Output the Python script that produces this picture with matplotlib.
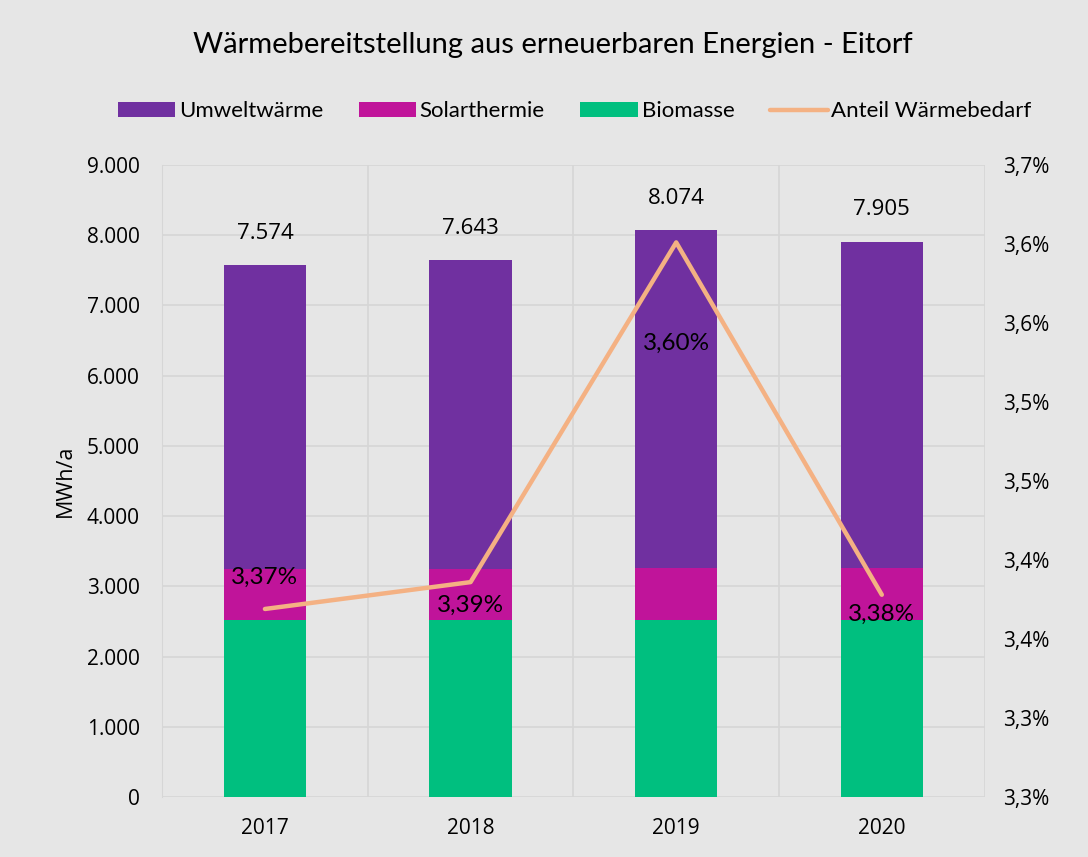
import matplotlib.pyplot as plt
import numpy as np
from matplotlib.ticker import FuncFormatter, MultipleLocator

# data
jahre = ["2017", "2018", "2019", "2020"]
biomasse = [2520, 2520, 2520, 2520]
solarthermie = [725, 730, 735, 745]
umweltwaerme = [4329, 4393, 4819, 4640]
anteil = [3.369, 3.386, 3.601, 3.378]

# colours
c_umwelt = "#7030A0"
c_solar = "#C0149A"
c_bio = "#00BF7F"
c_linie = "#F4B183"
bg = "#E6E6E6"
grid_c = "#D6D6D6"

plt.rcParams["font.family"] = ["Lato", "DejaVu Sans"]
tick_font = ["Open Sans", "DejaVu Sans"]

fig = plt.figure(figsize=(10.88, 8.57), dpi=100, facecolor=bg)
ax = fig.add_axes([0.149, 0.070, 0.756, 0.7375])
ax.set_facecolor(bg)

x = np.arange(len(jahre))
w = 0.40
b1 = ax.bar(x, biomasse, w, color=c_bio, label="Biomasse", zorder=3)
b2 = ax.bar(x, solarthermie, w, bottom=biomasse, color=c_solar, label="Solarthermie", zorder=3)
bottom2 = np.array(biomasse) + np.array(solarthermie)
b3 = ax.bar(x, umweltwaerme, w, bottom=bottom2, color=c_umwelt, label="Umweltwärme", zorder=3)

# Summen über den Balken
summe = bottom2 + np.array(umweltwaerme)
for xi, s in zip(x, summe):
    ax.annotate(f"{s:,.0f}".replace(",", "."), (xi, s), xytext=(0, 23), textcoords="offset points",
                ha="center", va="center", fontsize=16, family=tick_font)

ax.set_xlim(-0.5, 3.5)
ax.set_ylim(0, 9000)
ax.yaxis.set_major_locator(MultipleLocator(1000))
ax.yaxis.set_major_formatter(FuncFormatter(lambda v, p: f"{v:,.0f}".replace(",", ".")))
ax.set_xticks(x)
ax.set_xticklabels(jahre)
ax.set_xticks(np.arange(-0.5, 4, 1), minor=True)
ax.grid(axis="y", color=grid_c, lw=1.2, zorder=0)
ax.grid(axis="x", which="minor", color=grid_c, lw=1.2, zorder=0)
ax.tick_params(axis="y", which="both", length=0, labelsize=15, pad=16)
ax.tick_params(axis="x", which="both", length=0, labelsize=15, pad=15)
for lbl in ax.get_xticklabels() + ax.get_yticklabels():
    lbl.set_family(tick_font)
for sp in ["top", "right", "bottom"]:
    ax.spines[sp].set_visible(False)
ax.spines["left"].set_color(grid_c)
ax.set_ylabel("MWh/a", fontsize=15.5, family=tick_font, labelpad=8)

# Anteil am Wärmebedarf (rechte Achse)
ax2 = ax.twinx()
ln, = ax2.plot(x, anteil, color=c_linie, lw=3.2, label="Anteil Wärmebedarf", zorder=4,
               solid_capstyle="round")
ax2.set_ylim(3.25, 3.65)
ax2.yaxis.set_major_locator(MultipleLocator(0.05))
ax2.yaxis.set_major_formatter(FuncFormatter(lambda v, p: f"{v + 1e-9:.1f}".replace(".", ",") + "%"))
ax2.tick_params(axis="y", length=0, labelsize=15, pad=13)
for lbl in ax2.get_yticklabels():
    lbl.set_family(tick_font)
for sp in ax2.spines.values():
    sp.set_visible(False)

offsets = [(0, 23), (0, -17), (0, -73), (0, -14)]
for xi, a, off in zip(x, anteil, offsets):
    ax2.annotate(f"{a:.2f}".replace(".", ",") + "%", (xi, a), xytext=off, textcoords="offset points",
                 ha="center", va="center", fontsize=17.5, zorder=5)

fig.text(0.508, 0.947, "Wärmebereitstellung aus erneuerbaren Energien - Eitorf", ha="center", va="center",
         fontsize=21)
fig.legend([b3, b2, b1, ln], ["Umweltwärme", "Solarthermie", "Biomasse", "Anteil Wärmebedarf"],
           loc="center", bbox_to_anchor=(0.528, 0.870), ncol=4, frameon=False, fontsize=16,
           handlelength=2.6, handleheight=0.7, columnspacing=1.6, handletextpad=0.15)

fig.savefig("out.png", dpi=100, facecolor=bg)
